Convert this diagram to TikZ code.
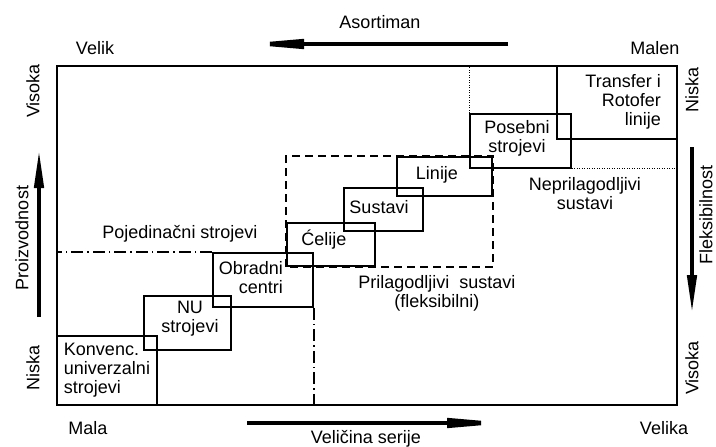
\documentclass[tikz,border=0pt]{standalone}
\usepackage{fontspec}
\setmainfont{Liberation Sans}
\usetikzlibrary{arrows.meta,positioning}

\begin{document}
\begin{tikzpicture}[x=1pt,y=-1pt,
	every node/.style={font=\fontsize{18}{19}\selectfont,inner sep=0pt},
	frame/.style={draw,line width=2.3pt},
	box/.style={draw,line width=1.9pt},
	boxtext/.style={align=center},
	flexbox/.style={line width=1.5pt,dash pattern=on 8pt off 5pt},
	dotline/.style={line width=1pt,dash pattern=on 1pt off 1.5pt},
	dashdotline/.style={line width=1.3pt,dash pattern=on 12pt off 4pt on 1.5pt off 4pt},
	harrow/.style={line width=4.5pt,-{Triangle[length=68pt,width=9pt]}},
	varrow/.style={line width=4.5pt,-{Triangle[length=40pt,width=9pt]}},
	vtext/.style={rotate=90}]
	\useasboundingbox (0,0) rectangle (716,447);
	\node[frame,minimum width=620pt,minimum height=339pt](fr) at (367,235.5) {};
	\node[box,minimum width=100pt,minimum height=69pt,align=left](kon) at (107,370.5) {Konvenc.\\univerzalni\\strojevi};
	\node[box,minimum width=87pt,minimum height=54pt](nu) at (187.5,323) {};
	\node[box,minimum width=100pt,minimum height=54pt](ob) at (263,280) {};
	\node[box,minimum width=88pt,minimum height=43pt](ce) at (331,244.5) {};
	\node[box,minimum width=79pt,minimum height=43pt](su) at (383.5,209.5) {};
	\node[box,minimum width=95pt,minimum height=39pt](li) at (444.5,176.5) {};
	\node[box,minimum width=101pt,minimum height=54pt](po) at (520.5,141) {};
	\node[box,minimum width=120pt,minimum height=73pt](tr) at (617,102.5) {};
	\node[boxtext](nut) at (190,319) {NU\\strojevi};
	\node[boxtext,align=right,anchor=east](obt) at (283,278) {Obradni\\centri};
	\node[boxtext](cet) at (324,240) {Ćelije};
	\node[boxtext](sut) at (379,207) {Sustavi};
	\node[boxtext](lit) at (437,175) {Linije};
	\node[boxtext](pot) at (517,138) {Posebni\\strojevi};
	\node[boxtext,align=right,anchor=east](trt) at (661,102) {Transfer i\\Rotofer\\linije};
	\draw[flexbox] (ce.south west) rectangle (li.north east);
	\draw[dotline] (po.north west) -- (po.north west |- fr.north);
	\draw[dotline] (po.south east) -- (fr.east |- po.south east);
	\draw[dashdotline] (ob.north west) -- (fr.west |- ob.north west);
	\draw[dashdotline] (ob.south east) -- (ob.south east |- fr.south);
	\node(poj) at (180,234) {Pojedinačni strojevi};
	\node[align=center](pril) at (437,293) {Prilagodljivi~ sustavi\\(fleksibilni)};
	\node[align=center](nepril) at (585,194) {Neprilagodljivi\\sustavi};
	\node(asort) at (380,22) {Asortiman};
	\node(velik) at (95,48) {Velik};
	\node(malen) at (655,48) {Malen};
	\node(mala) at (88,428) {Mala};
	\node(velika) at (664,428) {Velika};
	\node(serija) at (366,439) {Veličina serije};
	\node[vtext](lvis) at (33,91) {Visoka};
	\node[vtext](lnis) at (33,368) {Niska};
	\node[vtext](proiz) at (22,238) {Proizvodnost};
	\node[vtext](rnis) at (692,90) {Niska};
	\node[vtext](rvis) at (692,368) {Visoka};
	\node[vtext](fleks) at (706,215) {Fleksibilnost};
	\coordinate (asA) at (508,44);
	\coordinate (asB) at (236,44);
	\coordinate (seA) at (247,423);
	\coordinate (seB) at (515,423);
	\coordinate (prA) at (39,317);
	\coordinate (prB) at (39,148);
	\coordinate (flA) at (692,147);
	\coordinate (flB) at (692,315);
	\draw[harrow] (asA) -- (asB);
	\draw[harrow] (seA) -- (seB);
	\draw[varrow] (prA) -- (prB);
	\draw[varrow] (flA) -- (flB);
\end{tikzpicture}
\end{document}
